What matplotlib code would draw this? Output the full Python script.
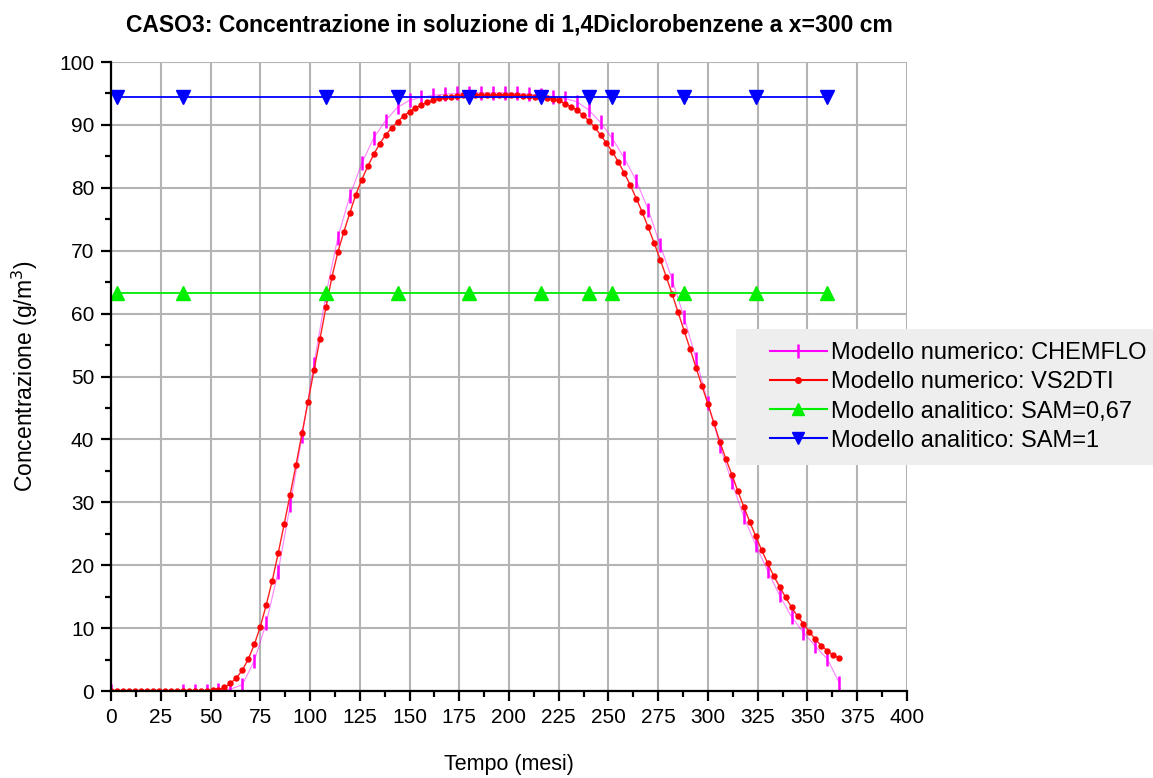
import numpy as np
import matplotlib
matplotlib.use('Agg')
import matplotlib.pyplot as plt
from matplotlib.ticker import MultipleLocator, AutoMinorLocator
from matplotlib.patches import Rectangle

plt.rcParams['font.family'] = ['Liberation Sans', 'DejaVu Sans']

# VS2DTI: one value every 3 months (0 .. 366)
months_vs2dti = np.arange(0, 367, 3)
conc_vs2dti = [
    0, 0, 0, 0, 0, 0, 0, 0, 0, 0, 0, 0, 0, 0, 0, 0, 0,
    0.1, 0.2, 0.6, 1.2, 2.1, 3.3, 5.1, 7.4, 10.2, 13.7,
    17.5, 21.9, 26.5, 31.2, 36.0, 41.0, 46.0, 51.0, 56.0, 61.0,
    65.8, 69.8, 73.0, 76.0, 78.9, 81.3, 83.4, 85.3, 87.0, 88.4,
    89.5, 90.5, 91.4, 92.1, 92.7, 93.2, 93.6, 93.9, 94.2, 94.4,
    94.5, 94.6, 94.7, 94.7, 94.8, 94.8, 94.8, 94.8, 94.8, 94.8,
    94.7, 94.7, 94.6, 94.6, 94.5, 94.5, 94.3, 94.1, 93.9, 93.4,
    92.9, 92.4, 91.6, 90.7, 89.7, 88.4, 87.1, 85.7, 84.1, 82.3,
    80.4, 78.3, 76.1, 73.7, 71.2, 68.6, 65.9, 63.1, 60.2, 57.3,
    54.4, 51.4, 48.5, 45.6, 42.6, 39.6, 36.9, 34.4, 31.8, 29.3,
    26.9, 24.6, 22.4, 20.3, 18.3, 16.6, 14.9, 13.3, 11.9, 10.7,
    9.4, 8.2, 7.2, 6.4, 5.7, 5.2,
]

# CHEMFLO: first value at 0, then every 6 months from 36
months_chemflo = np.concatenate([[0], np.arange(36, 367, 6)])
conc_chemflo = [
    0,
    0, 0, 0, 0.1, 0.3, 1.0, 4.8, 10.8, 19.0, 29.5,
    40.5, 52.0, 63.0, 72.1, 78.7, 83.9, 87.9, 90.7, 92.8, 93.9,
    94.4, 94.7, 94.9, 95.0, 95.1, 95.1, 95.1, 95.1, 95.0, 94.9,
    94.7, 94.5, 94.2, 93.7, 92.4, 90.4, 87.8, 84.7, 81.1, 76.5,
    70.9, 65.4, 59.4, 52.8, 45.8, 39.0, 33.2, 27.7, 23.2, 19.1,
    15.2, 11.8, 9.3, 7.1, 5.1, 1.3,
]

# analytical solutions (constant)
months_analytic = [3, 36, 108, 144, 180, 216, 240, 252, 288, 324, 360]
conc_sam067 = [63.2] * len(months_analytic)
conc_sam1 = [94.4] * len(months_analytic)

fig = plt.figure(figsize=(11.53, 7.78), dpi=100)
ax = fig.add_axes([0.0963, 0.1118, 0.6903, 0.8085])

ax.plot(months_chemflo, conc_chemflo, color='#ff00ff', lw=0.8, alpha=0.5)
ax.plot(months_chemflo, conc_chemflo, ls='none', marker='|', ms=10, mew=1.8,
        color='#ff00ff')
ax.plot(months_vs2dti, conc_vs2dti, color='#ff2020', lw=1.0, marker='o',
        ms=4.6, mew=0, mfc='#ff0000')
ax.plot(months_analytic, conc_sam067, color='#00ee00', lw=1.3, marker='^', ms=10)
ax.plot(months_analytic, conc_sam1, color='#0000ff', lw=1.3, marker='v', ms=10)

# legend proxies
h1, = ax.plot([], [], color='#ff00ff', lw=1.5, marker='|', ms=10, mew=1.8)
h2, = ax.plot([], [], color='#ff0000', lw=1.5, marker='o', ms=5, mew=0)
h3, = ax.plot([], [], color='#00ee00', lw=1.5, marker='^', ms=9)
h4, = ax.plot([], [], color='#0000ff', lw=1.5, marker='v', ms=9)

ax.set_xlim(0, 400)
ax.set_ylim(0, 100)
ax.xaxis.set_major_locator(MultipleLocator(25))
ax.yaxis.set_major_locator(MultipleLocator(10))
ax.xaxis.set_minor_locator(AutoMinorLocator(2))
ax.yaxis.set_minor_locator(AutoMinorLocator(2))

ax.grid(True, which='major', color='#b4b4b4', lw=1.5)
ax.set_axisbelow(True)
# no grid line on the outer limits
ax.xaxis.get_major_ticks()[-1].gridline.set_visible(False)
ax.yaxis.get_major_ticks()[-1].gridline.set_visible(False)

for s in ['top', 'right']:
    ax.spines[s].set_visible(False)
for s in ['left', 'bottom']:
    ax.spines[s].set_linewidth(1.6)

ax.tick_params(which='major', direction='out', length=7, width=1.6, labelsize=15, pad=5)
ax.tick_params(which='minor', direction='out', length=4, width=1.6)

ax.set_title('CASO3: Concentrazione in soluzione di 1,4Diclorobenzene a x=300 cm',
             fontsize=16.5, fontweight='bold', pad=22)
ax.set_xlabel('Tempo (mesi)', fontsize=15.5, labelpad=20)
ax.set_ylabel('Concentrazione (g/m$^3$)', fontsize=16.5, labelpad=14)

# legend with a grey box
fig.patches.append(Rectangle((736 / 1153, 1 - 465 / 778), (1153 - 736) / 1153,
                             (465 - 329) / 778, transform=fig.transFigure,
                             facecolor='#eeeeee', edgecolor='none', zorder=5))
leg = fig.legend([h1, h2, h3, h4],
                 ['Modello numerico: CHEMFLO', 'Modello numerico: VS2DTI',
                  'Modello analitico: SAM=0,67', 'Modello analitico: SAM=1'],
                 loc='center left', bbox_to_anchor=(770 / 1153, 1 - 397 / 778),
                 frameon=False, fontsize=17, handlelength=2.4, handletextpad=0.2,
                 labelspacing=0.3, borderpad=0, borderaxespad=0)
leg.set_zorder(6)

fig.savefig('out.png', dpi=100)
